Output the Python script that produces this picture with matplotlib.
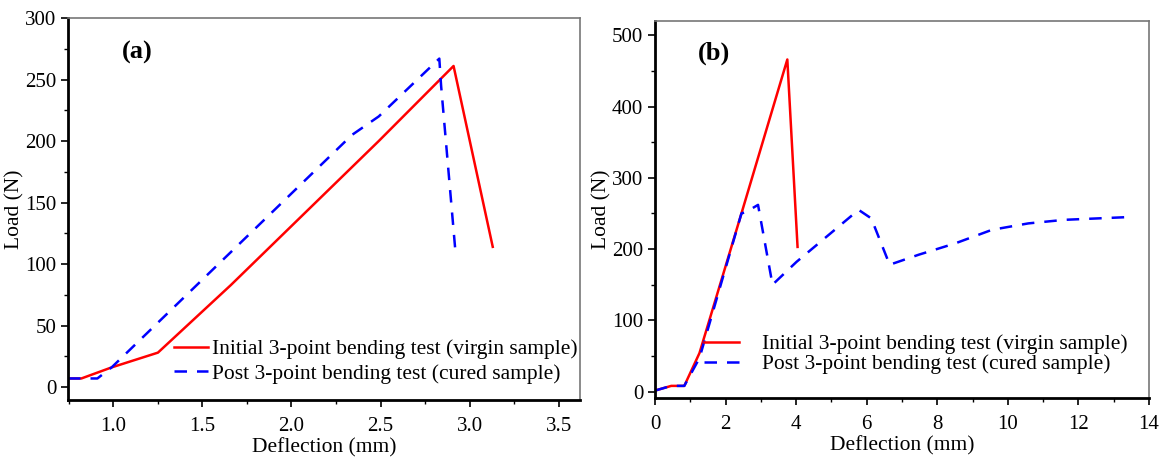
import matplotlib
matplotlib.use("Agg")
import matplotlib.pyplot as plt
from matplotlib.ticker import MultipleLocator

plt.rcParams['font.family'] = ['Liberation Serif', 'DejaVu Serif']

# panel (a)
a_virgin_x = [0.745, 0.82, 0.99, 1.25, 1.66, 2.49, 2.91, 3.13]
a_virgin_y = [7, 7, 16, 28, 83, 200, 261, 114]
a_cured_x = [0.745, 0.91, 0.99, 2.34, 2.49, 2.83, 2.84, 2.92]
a_cured_y = [7, 7, 16, 205, 220, 267, 245, 111]

# panel (b)
b_virgin_x = [0, 0.46, 0.83, 1.26, 2.45, 3.75, 4.04]
b_virgin_y = [1.4, 8, 8, 54, 250, 466, 203]
b_cured_x = [0, 0.46, 0.83, 1.26, 2.45, 2.58, 2.92, 3.33, 4.01, 5.77, 6.13,
             6.65, 7.47, 8.51, 9.55, 10.58, 11.6, 13.48]
b_cured_y = [1.4, 8, 8, 47, 250, 252, 262, 150, 182, 255, 243,
             178, 192, 208, 227, 236, 241, 245]

lbl_virgin = 'Initial 3-point bending test (virgin sample)'
lbl_cured = 'Post 3-point bending test (cured sample)'

fig = plt.figure(figsize=(11.59, 4.59), dpi=100)
W, H = 1159, 459
axa = fig.add_axes([68 / W, 1 - 400 / H, 512 / W, 382 / H])
axb = fig.add_axes([655 / W, 1 - 398 / H, 494 / W, 377 / H])


def style(ax):
    for s in ['left', 'bottom']:
        ax.spines[s].set_linewidth(2)
        ax.spines[s].set_color('black')
    for s in ['top', 'right']:
        ax.spines[s].set_linewidth(1.2)
        ax.spines[s].set_color('#777777')
    ax.tick_params(which='major', direction='out', length=5, width=1.2,
                   labelsize=15, top=False, right=False)
    ax.tick_params(axis='x', which='major', pad=7)
    ax.tick_params(which='minor', direction='out', length=3, width=1,
                   top=False, right=False)
    ax.set_xlabel('Deflection (mm)', fontsize=15.5, labelpad=2)
    ax.set_ylabel('Load (N)', fontsize=15.5, labelpad=0)


axa.plot(a_virgin_x, a_virgin_y, color='red', lw=1.8, label=lbl_virgin)
axa.plot(a_cured_x, a_cured_y, color='blue', lw=1.8, ls=(0, (5, 4)), label=lbl_cured)
axa.set_xlim(0.745, 3.62)
axa.set_ylim(-10.5, 300)
axa.xaxis.set_major_locator(MultipleLocator(0.5))
axa.xaxis.set_minor_locator(MultipleLocator(0.25))
axa.yaxis.set_major_locator(MultipleLocator(50))
axa.yaxis.set_minor_locator(MultipleLocator(25))
axa.xaxis.set_major_formatter(plt.FormatStrFormatter('%.1f'))
style(axa)
axa.text(0.135, 0.91, '(a)', transform=axa.transAxes, fontsize=19,
         fontweight='bold', va='center', ha='center')
axa.legend(loc='lower right', bbox_to_anchor=(1.013, 0.02), frameon=False,
           fontsize=15.5, handlelength=1.6, handletextpad=0.2, labelspacing=0.2,
           borderaxespad=0)

axb.plot(b_virgin_x, b_virgin_y, color='red', lw=1.8, label=lbl_virgin)
axb.plot(b_cured_x, b_cured_y, color='blue', lw=1.8, ls=(0, (5, 4)), label=lbl_cured)
axb.set_xlim(0, 14)
axb.set_ylim(-9, 520)
axb.xaxis.set_major_locator(MultipleLocator(2))
axb.xaxis.set_minor_locator(MultipleLocator(1))
axb.yaxis.set_major_locator(MultipleLocator(100))
axb.yaxis.set_minor_locator(MultipleLocator(50))
style(axb)
axb.text(0.12, 0.915, '(b)', transform=axb.transAxes, fontsize=19,
         fontweight='bold', va='center', ha='center')
axb.legend(loc='lower right', bbox_to_anchor=(0.975, 0.04), frameon=False,
           fontsize=15.5, handlelength=1.6, handletextpad=1.1, labelspacing=0.0,
           borderaxespad=0)

fig.savefig('out.png', dpi=100)
